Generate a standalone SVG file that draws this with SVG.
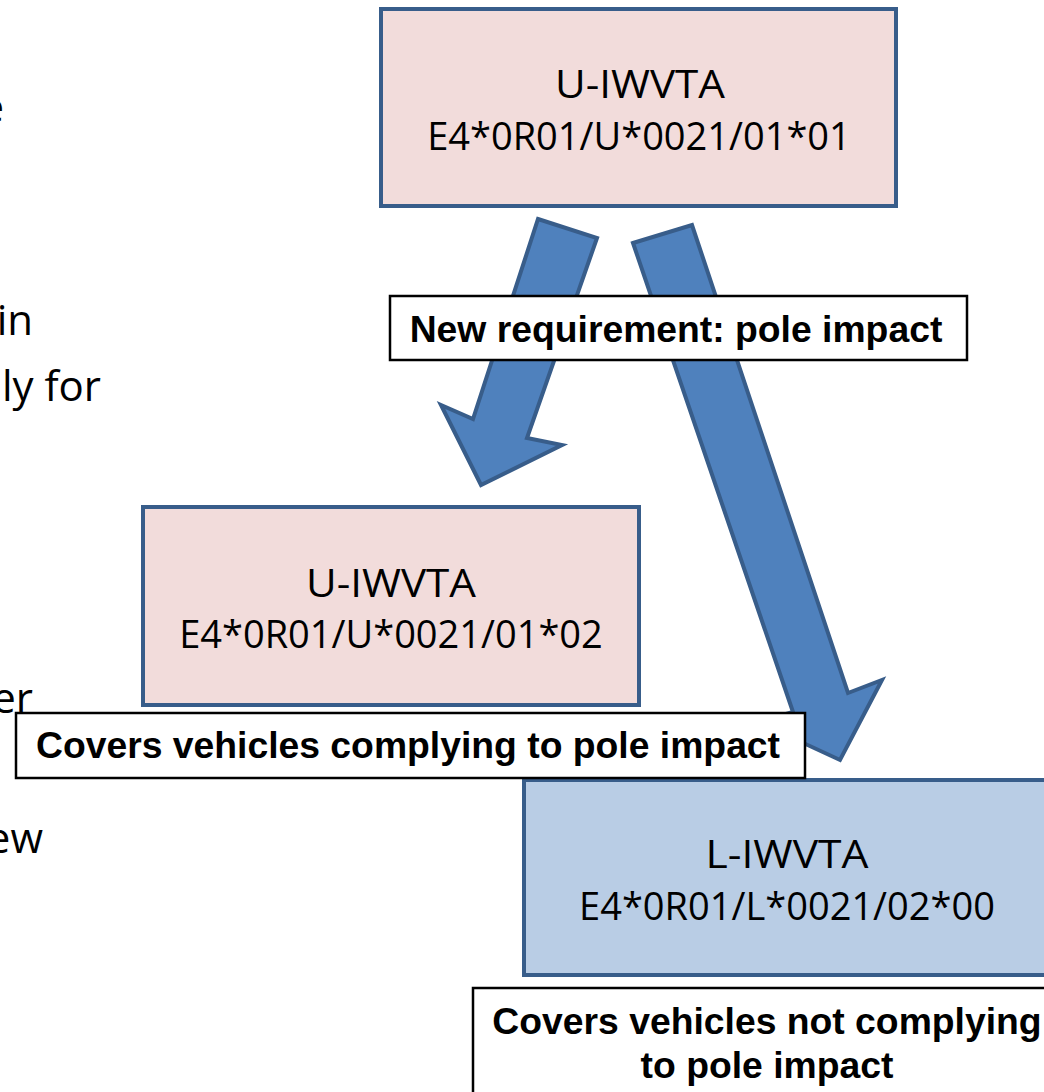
<svg xmlns="http://www.w3.org/2000/svg" width="1044" height="1092" viewBox="0 0 1044 1092">
<style>
.bg{fill:#ffffff}
.frag{font-family:"Open Sans","Liberation Sans",sans-serif;font-size:42px;fill:#000;text-anchor:end}
.box{stroke:#385D8A;stroke-width:4}
.pink{fill:#F2DCDB}
.blue{fill:#B9CDE5}
.bt{font-family:"Open Sans","Liberation Sans",sans-serif;font-size:38px;fill:#000;text-anchor:middle}
.bh{font-size:39px}
.arrow{fill:#4F81BD;stroke:#385D8A;stroke-width:4;stroke-linejoin:miter}
.lbl{fill:#fff;stroke:#000;stroke-width:2.5}
.lt{font-family:"Liberation Sans",Arial,sans-serif;font-size:37.3px;font-weight:bold;fill:#000;text-anchor:middle}
</style>
<rect class="bg" x="0" y="0" width="1044" height="1092"/>
<g id="fragments">
<text class="frag" x="4" y="122">e</text>
<text class="frag" x="33" y="335">in</text>
<text class="frag" x="101" y="401">ly for</text>
<text class="frag" x="33" y="713">er</text>
<text class="frag" x="43" y="853">ew</text>
</g>
<g id="node-u1">
<rect class="box pink" x="381" y="9" width="515" height="197"/>
<text class="bt bh" x="640" y="98" textLength="170" lengthAdjust="spacingAndGlyphs">U-IWVTA</text>
<text class="bt" x="639" y="150">E4*0R01/U*0021/01*01</text>
</g>
<g id="node-u2">
<rect class="box pink" x="143" y="507" width="496" height="198"/>
<text class="bt bh" x="391" y="597" textLength="170" lengthAdjust="spacingAndGlyphs">U-IWVTA</text>
<text class="bt" x="391" y="648">E4*0R01/U*0021/01*02</text>
</g>
<g id="node-l">
<rect class="box blue" x="524" y="780" width="540" height="195"/>
<text class="bt bh" x="787" y="868" textLength="163" lengthAdjust="spacingAndGlyphs">L-IWVTA</text>
<text class="bt" x="787" y="920">E4*0R01/L*0021/02*00</text>
</g>
<g id="connectors">
<polygon class="arrow" points="538,219 597,238 527,438 562,445 481,485 441,405 473,419"/>
<polygon class="arrow" points="633,243 692,225 848,693 882,680 840,760 758,722 793,712"/>
</g>
<g id="label-new">
<rect class="lbl" x="390" y="296" width="577" height="64"/>
<text class="lt" x="676" y="342">New requirement: pole impact</text>
</g>
<g id="label-comply">
<rect class="lbl" x="16" y="713" width="789" height="65"/>
<text class="lt" x="408" y="758">Covers vehicles complying to pole impact</text>
</g>
<g id="label-notcomply">
<rect class="lbl" x="473" y="988" width="600" height="120"/>
<text class="lt" x="767" y="1034">Covers vehicles not complying</text>
<text class="lt" x="767" y="1078">to pole impact</text>
</g>
</svg>
